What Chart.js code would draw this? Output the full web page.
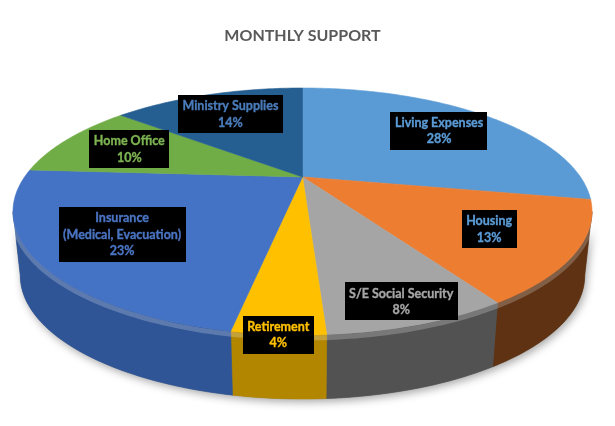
<!DOCTYPE html>
<html>
<head>
<meta charset="utf-8">
<script src="https://cdn.jsdelivr.net/npm/chart.js@4.4.1/dist/chart.umd.min.js"></script>
<style>
  html, body { margin: 0; padding: 0; background: #fff; }
  #wrap { width: 615px; height: 426px; }
</style>
</head>
<body>
<div id="wrap"><canvas id="c"></canvas></div>
<script>
// data
const categories = ['Living Expenses', 'Housing', 'S/E Social Security', 'Retirement', ['Insurance', '(Medical, Evacuation)'], 'Home Office', 'Ministry Supplies'];
const shares = [28, 13, 8, 4, 23, 10, 14];

// styles
const topColors = ['#5B9BD5', '#ED7D31', '#A5A5A5', '#FFC000', '#4472C4', '#70AD47', '#255E91'];
const sideColors = ['#3A6E9E', '#5E3213', '#525252', '#B38600', '#2F5597', '#4E7A32', '#1A4266'];
const labelColors = ['#5B9BD5', '#5B9BD5', '#A5A5A5', '#FFC000', '#4A74C2', '#7DB352', '#4A7CBB'];
const labelFont = 'bold 12.5px Lato';

// draws the pie as a tilted 3D disc from the arcs Chart.js laid out
const pie3d = {
  id: 'pie3d',
  beforeDatasetsDraw(chart) {
    const ctx = chart.ctx, ca = chart.chartArea;
    const arcs = chart.getDatasetMeta(0).data;
    const k = -0.28, depth = 64, bottomScale = 0.975;
    const rx = (ca.right - ca.left) / 2;
    const cx = arcs[0].x;
    const b = (ca.bottom - ca.top) * (1 - k * k) / 2;
    const a = rx * Math.sqrt(1 - k * k);
    const cy = ca.top + b / (1 - k);
    const P = (t, r) => {
      const X = r * Math.cos(t), Y = r * Math.sin(t), w = 1 + k * Y;
      return [cx + a * X / w, cy + b * Y / w];
    };
    const rim = (from, to, dy) => {
      const n = Math.max(2, Math.ceil((to - from) / (Math.PI / 180)));
      const sx = dy ? bottomScale : 1;
      const pts = [];
      for (let i = 0; i <= n; i++) {
        const p = P(from + (to - from) * i / n, 1);
        pts.push([cx + (p[0] - cx) * sx, p[1] + dy]);
      }
      return pts;
    };
    const trace = (pts, cont) => {
      pts.forEach((p, i) => (i || cont) ? ctx.lineTo(p[0], p[1]) : ctx.moveTo(p[0], p[1]));
    };
    const t0 = Math.asin(-k), t1 = Math.PI - t0;

    ctx.save();
    // shadow under the disc
    ctx.beginPath();
    trace(rim(t0, t1, 0).concat(rim(t0, t1, depth).reverse()));
    ctx.closePath();
    ctx.shadowColor = 'rgba(0,0,0,0.35)';
    ctx.shadowBlur = 9;
    ctx.shadowOffsetX = 2;
    ctx.shadowOffsetY = 3;
    ctx.fillStyle = '#777';
    ctx.fill();
    ctx.shadowColor = 'transparent';

    // side walls (front facing part only)
    arcs.forEach((arc, i) => {
      const s = Math.max(arc.startAngle, t0), e = Math.min(arc.endAngle, t1);
      if (e <= s) return;
      ctx.beginPath();
      trace(rim(s, e, 0).concat(rim(s, e, depth).reverse()));
      ctx.closePath();
      ctx.fillStyle = sideColors[i];
      ctx.fill();
      ctx.strokeStyle = sideColors[i];
      ctx.lineWidth = 0.6;
      ctx.stroke();
    });
    // light rim under the top edge
    ctx.beginPath();
    trace(rim(t0, t1, 0).map(p => [p[0], p[1] + 3]));
    ctx.strokeStyle = 'rgba(255,255,255,0.22)';
    ctx.lineWidth = 5;
    ctx.stroke();

    // top face
    arcs.forEach((arc, i) => {
      ctx.beginPath();
      ctx.moveTo(cx, cy);
      trace(rim(arc.startAngle, arc.endAngle, 0), true);
      ctx.closePath();
      ctx.fillStyle = topColors[i];
      ctx.fill();
      ctx.strokeStyle = topColors[i];
      ctx.lineWidth = 0.6;
      ctx.stroke();
    });

    // data labels, narrow slices pushed toward the rim
    const total = shares.reduce((s, v) => s + v, 0);
    ctx.font = labelFont;
    ctx.textAlign = 'center';
    ctx.textBaseline = 'middle';
    arcs.forEach((arc, i) => {
      const frac = shares[i] / total;
      const mid = (arc.startAngle + arc.endAngle) / 2;
      const p = P(mid, frac < 0.09 ? 1.12 - 3 * frac : 0.72);
      const name = categories[i];
      const lines = (Array.isArray(name) ? name : [name]).concat([Math.round(frac * 100) + '%']);
      const lh = 16.5;
      const w = Math.max(...lines.map(l => ctx.measureText(l).width)) + 9;
      const h = lines.length * lh + 5;
      ctx.fillStyle = '#000';
      ctx.fillRect(Math.round(p[0] - w / 2), Math.round(p[1] - h / 2), Math.round(w), Math.round(h));
      ctx.fillStyle = labelColors[i];
      ctx.strokeStyle = labelColors[i];
      ctx.lineWidth = 0.35;
      lines.forEach((l, j) => {
        const y = p[1] - h / 2 + 3 + lh * (j + 0.5);
        ctx.fillText(l, p[0], y);
        ctx.strokeText(l, p[0], y);
      });
    });
    ctx.restore();
    return false;
  }
};

new Chart(document.getElementById('c'), {
  type: 'pie',
  data: {
    labels: categories,
    datasets: [{ data: shares, backgroundColor: topColors, borderWidth: 0 }]
  },
  options: {
    responsive: true,
    maintainAspectRatio: false,
    animation: false,
    events: [],
    layout: { padding: { left: 13, right: 23, top: 0, bottom: 91 } },
    plugins: {
      legend: { display: false },
      tooltip: { enabled: false },
      title: {
        display: true,
        text: 'MONTHLY SUPPORT',
        color: '#595959',
        font: { family: 'Lato', size: 16, weight: 'bold' },
        padding: { top: 26, bottom: 42.8 }
      }
    }
  },
  plugins: [pie3d]
});
</script>
</body>
</html>
